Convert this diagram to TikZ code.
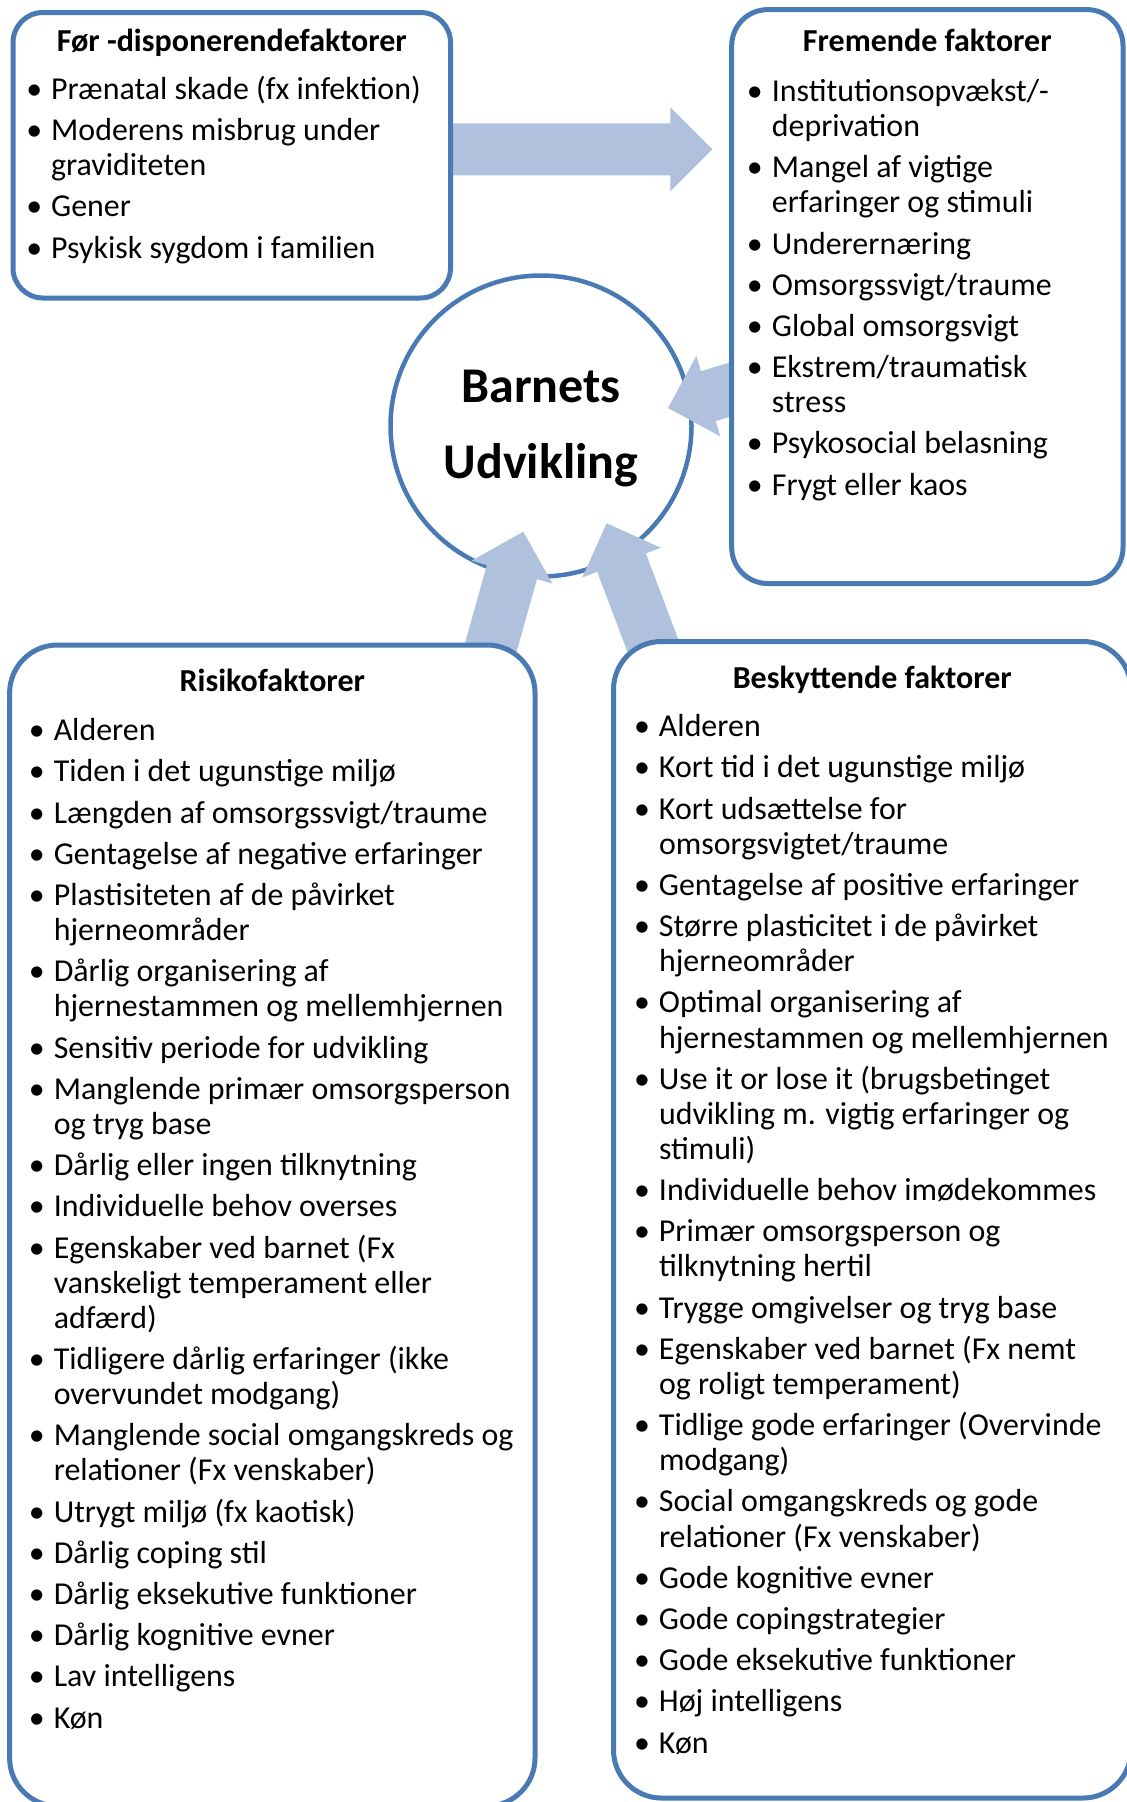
\documentclass[tikz,border=0pt]{standalone}
\usepackage{fontspec}
\setmainfont{Carlito}
\definecolor{boxblue}{RGB}{74,122,180}
\definecolor{arrowblue}{RGB}{176,193,221}
\newcommand\bul{\llap{\makebox[34pt][c]{•}}}
\newcommand\bodysize{\fontsize{31.9}{35.1}\selectfont}
\newcommand\titlesize{\fontsize{32}{35.1}\selectfont\bfseries}
\newcommand\centersize{\fontsize{50}{76}\selectfont\bfseries}
\newcommand\ig{\\[6.1pt]}
\begin{document}
\begin{tikzpicture}[x=1pt,y=-1pt,
  box/.style={rectangle, draw=boxblue, line width=5pt, fill=white, rounded corners=#1, inner sep=0pt, outer sep=0pt},
  hub/.style={circle, draw=boxblue, line width=4.5pt, fill=white, inner sep=0pt, minimum size=301pt},
  fatarrow/.style={fill=arrowblue},
  listtext/.style={anchor=base west, inner sep=0pt, font=\bodysize},
  boxtitle/.style={anchor=base, inner sep=0pt, font=\titlesize}]
\useasboundingbox (0,0) rectangle (1127,1802);
\fill[white] (0,0) rectangle (1127,1802);

% central circle
\node[hub] (hub) at (541,426) {};

% arrow tips (named coordinates)
\coordinate (tipA) at (712.3,149.3);
\coordinate (tipB) at (668,408);
\coordinate (tipC) at (523.3,531.7);
\coordinate (tipD) at (606.7,523.3);

% block arrows
\begin{scope}[shift={(tipA)}, rotate=0]
  \fill[fatarrow] (0,0) -- (-42,42) -- (-42,26) -- (-275,26) -- (-275,-26) -- (-42,-26) -- (-42,-42) -- cycle;
\end{scope}
\begin{scope}[shift={(tipB)}, rotate=196.5]
  \fill[fatarrow] (0,0) -- (-42,42) -- (-42,26) -- (-110,26) -- (-110,-26) -- (-42,-26) -- (-42,-42) -- cycle;
\end{scope}
\begin{scope}[shift={(tipC)}, rotate=74.3]
  \fill[fatarrow] (0,0) -- (-42,42) -- (-42,26) -- (-160,26) -- (-160,-26) -- (-42,-26) -- (-42,-42) -- cycle;
\end{scope}
\begin{scope}[shift={(tipD)}, rotate=110.7]
  \fill[fatarrow] (0,0) -- (-42,42) -- (-42,26) -- (-180,26) -- (-180,-26) -- (-42,-26) -- (-42,-42) -- cycle;
\end{scope}

% boxes
\node[box=30pt, minimum width=437.5pt, minimum height=285.5pt] (pre) at (231.75,155.25) {};
\node[box=36pt, minimum width=391.3pt, minimum height=573.9pt] (frem) at (927.35,296.55) {};
\node[box=48pt, minimum width=525.4pt, minimum height=1161pt] (risk) at (272.3,1225.5) {};
\node[box=48pt, minimum width=517.5pt, minimum height=1156.5pt] (besk) at (872.25,1219.75) {};

% centre text
\node[anchor=base, inner sep=0pt, font=\centersize] (hubtext) at (541,402)
  {\begin{tabular}[t]{@{}c@{}}Barnets\\Udvikling\end{tabular}};

% titles
\node[boxtitle] (pretitle) at (231.75,51.7) {Før -disponerendefaktorer};
\node[boxtitle] (fremtitle) at (927.35,51.7) {Fremende faktorer};
\node[boxtitle] (risktitle) at (272.3,691.7) {Risikofaktorer};
\node[boxtitle] (besktitle) at (872.25,688.3) {Beskyttende faktorer};

% lists
\node[listtext] (prelist) at (51,99.3) {\begin{tabular}[t]{@{}l@{}}
\bul Prænatal skade (fx infektion)\ig
\bul Moderens misbrug under\\
graviditeten\ig
\bul Gener\ig
\bul Psykisk sygdom i familien
\end{tabular}};

\node[listtext] (fremlist) at (771.7,101.4) {\begin{tabular}[t]{@{}l@{}}
\bul Institutionsopvækst/-\\
deprivation\ig
\bul Mangel af vigtige\\
erfaringer og stimuli\ig
\bul Underernæring\ig
\bul Omsorgssvigt/traume\ig
\bul Global omsorgsvigt\ig
\bul Ekstrem/traumatisk\\
stress\ig
\bul Psykosocial belasning\ig
\bul Frygt eller kaos
\end{tabular}};

\node[listtext] (risklist) at (53.6,740.7) {\begin{tabular}[t]{@{}l@{}}
\bul Alderen\ig
\bul Tiden i det ugunstige miljø\ig
\bul Længden af omsorgssvigt/traume\ig
\bul Gentagelse af negative erfaringer\ig
\bul Plastisiteten af de påvirket\\
hjerneområder\ig
\bul Dårlig organisering af\\
hjernestammen og mellemhjernen\ig
\bul Sensitiv periode for udvikling\ig
\bul Manglende primær omsorgsperson\\
og tryg base\ig
\bul Dårlig eller ingen tilknytning\ig
\bul Individuelle behov overses\ig
\bul Egenskaber ved barnet (Fx\\
vanskeligt temperament eller\\
adfærd)\ig
\bul Tidligere dårlig erfaringer (ikke\\
overvundet modgang)\ig
\bul Manglende social omgangskreds og\\
relationer (Fx venskaber)\ig
\bul Utrygt miljø (fx kaotisk)\ig
\bul Dårlig coping stil\ig
\bul Dårlig eksekutive funktioner\ig
\bul Dårlig kognitive evner\ig
\bul Lav intelligens\ig
\bul Køn
\end{tabular}};

\node[listtext] (besklist) at (658.8,736.7) {\begin{tabular}[t]{@{}l@{}}
\bul Alderen\ig
\bul Kort tid i det ugunstige miljø\ig
\bul Kort udsættelse for\\
omsorgsvigtet/traume\ig
\bul Gentagelse af positive erfaringer\ig
\bul Større plasticitet i de påvirket\\
hjerneområder\ig
\bul Optimal organisering af\\
hjernestammen og mellemhjernen\ig
\bul Use it or lose it (brugsbetinget\\
udvikling m. vigtig erfaringer og\\
stimuli)\ig
\bul Individuelle behov imødekommes\ig
\bul Primær omsorgsperson og\\
tilknytning hertil\ig
\bul Trygge omgivelser og tryg base\ig
\bul Egenskaber ved barnet (Fx nemt\\
og roligt temperament)\ig
\bul Tidlige gode erfaringer (Overvinde\\
modgang)\ig
\bul Social omgangskreds og gode\\
relationer (Fx venskaber)\ig
\bul Gode kognitive evner\ig
\bul Gode copingstrategier\ig
\bul Gode eksekutive funktioner\ig
\bul Høj intelligens\ig
\bul Køn
\end{tabular}};
\end{tikzpicture}
\end{document}
